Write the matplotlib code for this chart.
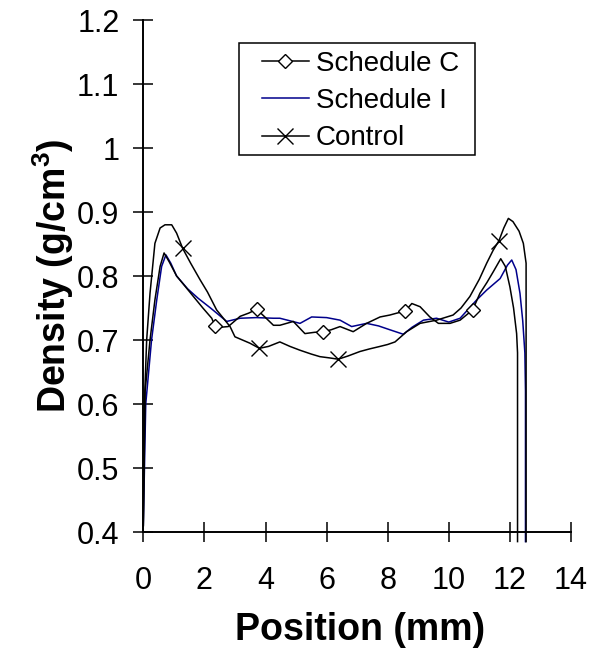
import numpy as np
import matplotlib
matplotlib.use("Agg")
import matplotlib.pyplot as plt
from matplotlib.patches import Rectangle

plt.rcParams['font.family'] = ['Liberation Sans', 'DejaVu Sans']
plt.rcParams['mathtext.fontset'] = 'custom'
plt.rcParams['mathtext.rm'] = 'Liberation Sans'
plt.rcParams['mathtext.bf'] = 'Liberation Sans:bold'

# density profiles
control_x = [0, 0.05, 0.11, 0.22, 0.38, 0.55, 0.71, 0.93, 1.09, 1.29, 1.55, 1.86, 2.10, 2.40,
             2.84, 3.0, 3.49, 3.80, 4.1, 4.47, 4.8, 5.13, 5.5, 5.78, 6.1, 6.38, 6.7, 7.09, 7.4,
             7.75, 8.0, 8.24, 8.62, 9.06, 9.6, 10.14, 10.4, 10.69, 11.0, 11.24, 11.45, 11.64,
             11.8, 11.95, 12.1, 12.3, 12.44, 12.53, 12.53]
control_y = [0.41, 0.62, 0.70, 0.773, 0.851, 0.875, 0.88, 0.88, 0.867, 0.843, 0.82, 0.794, 0.775,
             0.747, 0.721, 0.705, 0.695, 0.687, 0.69, 0.697, 0.69, 0.684, 0.678, 0.674, 0.672,
             0.670, 0.675, 0.682, 0.686, 0.690, 0.693, 0.697, 0.713, 0.726, 0.731, 0.739, 0.75,
             0.768, 0.795, 0.82, 0.84, 0.855, 0.875, 0.890, 0.885, 0.87, 0.851, 0.82, 0.385]
control_marks = [1.29, 3.80, 6.38, 11.64]

sched_c_x = [0, 0.06, 0.22, 0.38, 0.55, 0.68, 0.85, 1.09, 1.35, 1.64, 1.95, 2.24, 2.35, 2.55,
             2.78, 3.0, 3.17, 3.45, 3.71, 4.0, 4.26, 4.47, 4.91, 5.29, 5.6, 5.89, 6.15, 6.44,
             6.87, 7.31, 7.75, 8.07, 8.3, 8.57, 8.79, 9.06, 9.38, 9.66, 10.04, 10.37, 10.6,
             10.78, 11.02, 11.25, 11.46, 11.70, 11.85, 12.0, 12.12, 12.22, 12.25, 12.25]
sched_c_y = [0.41, 0.62, 0.70, 0.7625, 0.815, 0.836, 0.822, 0.80, 0.785, 0.768, 0.75, 0.734,
             0.722, 0.72, 0.721, 0.73, 0.737, 0.742, 0.748, 0.735, 0.723, 0.723, 0.729, 0.71,
             0.712, 0.713, 0.716, 0.721, 0.713, 0.726, 0.736, 0.739, 0.742, 0.745, 0.757, 0.752,
             0.736, 0.726, 0.726, 0.731, 0.74, 0.747, 0.773, 0.79, 0.807, 0.827, 0.815, 0.783,
             0.75, 0.71, 0.68, 0.385]
sched_c_marks = [2.35, 3.71, 5.89, 8.57, 10.78]

sched_i_x = [0, 0.08, 0.27, 0.44, 0.60, 0.74, 0.9, 1.09, 1.45, 1.80, 2.2, 2.73, 3.17, 3.7, 4.26,
             4.47, 5.13, 5.51, 6.0, 6.44, 6.82, 7.31, 7.7, 8.07, 8.51, 8.8, 9.17, 9.60, 10.0,
             10.37, 10.91, 11.24, 11.68, 11.92, 12.06, 12.2, 12.33, 12.42, 12.49, 12.51, 12.51]
sched_i_y = [0.41, 0.60, 0.70, 0.7625, 0.815, 0.833, 0.82, 0.80, 0.78, 0.765, 0.75, 0.729, 0.734,
             0.735, 0.734, 0.734, 0.726, 0.736, 0.735, 0.731, 0.721, 0.726, 0.722, 0.716, 0.709,
             0.72, 0.731, 0.734, 0.728, 0.734, 0.7625, 0.778, 0.796, 0.817, 0.825, 0.81, 0.773,
             0.73, 0.68, 0.62, 0.385]

x_ticks = [0, 2, 4, 6, 8, 10, 12, 14]
y_ticks = [0.4, 0.5, 0.6, 0.7, 0.8, 0.9, 1.0, 1.1, 1.2]


def mark_idx(xs, marks):
    return [xs.index(m) for m in marks]


fig = plt.figure(figsize=(5.92, 6.54), dpi=100)
W, H = 592, 654
ax = fig.add_axes([143.3 / W, (H - 532) / H, (571 - 143.3) / W, 512 / H])

ax.plot(sched_c_x, sched_c_y, color='black', lw=1.1, marker='D', ms=7, mfc='white',
        mec='black', mew=1.0, markevery=mark_idx(sched_c_x, sched_c_marks),
        clip_on=False, label='Schedule C', zorder=3)
ax.plot(sched_i_x, sched_i_y, color='#00008B', lw=1.1, clip_on=False, label='Schedule I', zorder=2)
ax.plot(control_x, control_y, color='black', lw=1.1, marker='x', ms=11, mew=1.0,
        markevery=mark_idx(control_x, control_marks), clip_on=False, label='Control', zorder=3)

ax.set_xlim(0, 14)
ax.set_ylim(0.4, 1.2)
ax.set_xticks(x_ticks)
ax.set_yticks(y_ticks)
ax.set_xticklabels([str(v) for v in x_ticks])
ax.set_yticklabels([f'{v:g}' for v in y_ticks])
for s in ['top', 'right']:
    ax.spines[s].set_visible(False)
for s in ['left', 'bottom']:
    ax.spines[s].set_linewidth(1.4)
ax.tick_params(axis='both', direction='inout', length=14.4, width=1.1, labelsize=22)
ax.tick_params(axis='x', pad=17)
ax.tick_params(axis='y', pad=10)

fig.text(360 / W, 1 - 640 / H, 'Position (mm)', ha='center', va='baseline',
         fontsize=27, fontweight='bold')
fig.text(66 / W, 1 - 276 / H, r'Density (g/cm$^{\mathbf{3}}$)', ha='center', va='baseline',
         rotation=90, rotation_mode='anchor', fontsize=27, fontweight='bold')

# legend box
fig.patches.append(Rectangle((239 / W, 1 - 155 / H), (475 - 239) / W, (155 - 43) / H,
                             transform=fig.transFigure, fill=False, edgecolor='black',
                             lw=1.1, zorder=5))
fs = 20
ax.legend(loc='upper left', bbox_to_anchor=(262 / W, 1 - 51 / H), bbox_transform=fig.transFigure,
          frameon=False, fontsize=fs, borderpad=0, borderaxespad=0, handlelength=1.69,
          handletextpad=0.25, labelspacing=0.4)

fig.savefig('out.png', dpi=100)
